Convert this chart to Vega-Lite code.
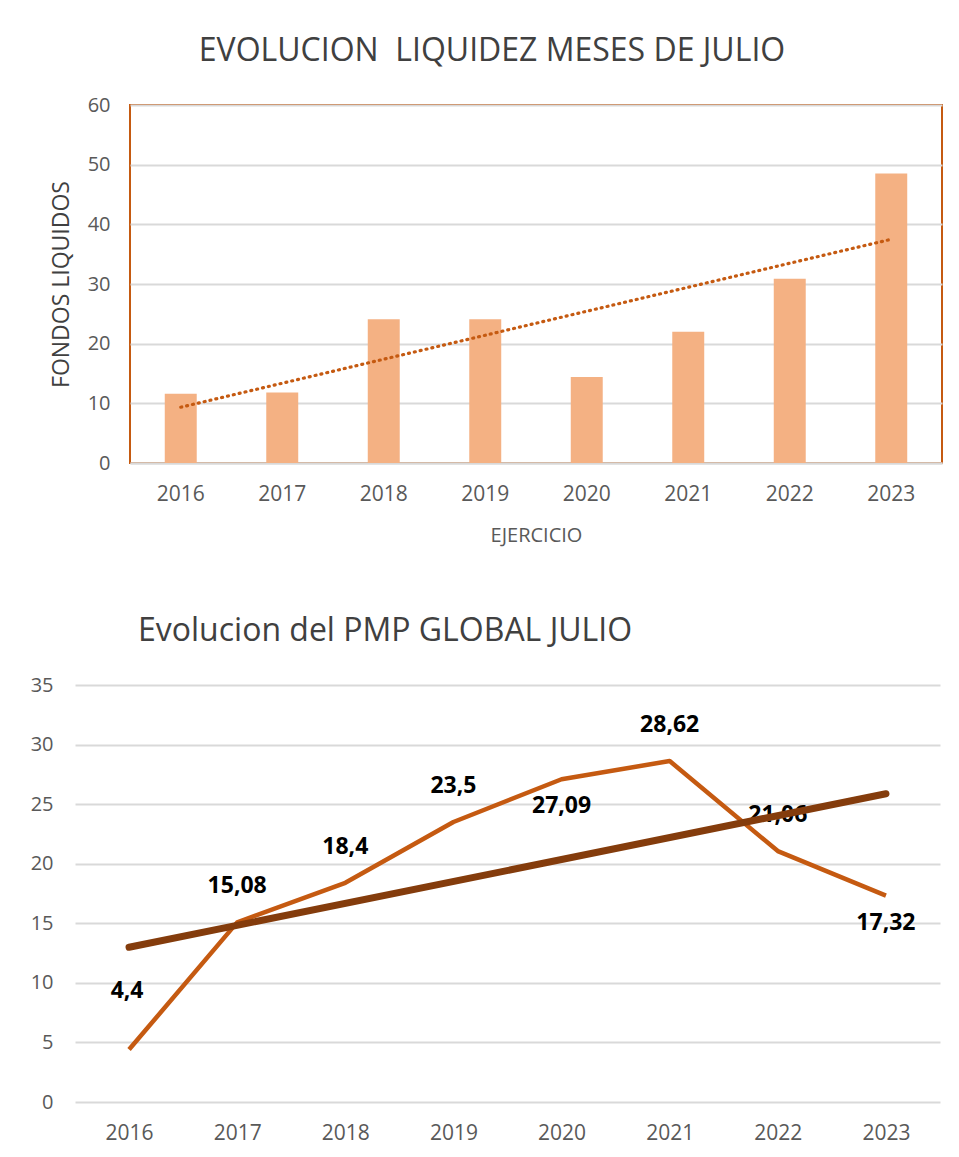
{
  "$schema": "https://vega.github.io/schema/vega-lite/v6.json",
  "padding": {"left": 30, "top": 34, "right": 10, "bottom": 5},
  "columns": 1,
  "spacing": 69,
  "config": {
    "locale": {"number": {"decimal": ",", "thousands": ".", "grouping": [3], "currency": ["", " €"]}},
    "font": "Open Sans",
    "axis": {
      "labelFont": "Open Sans",
      "labelColor": "#595959",
      "titleFont": "Open Sans",
      "titleColor": "#595959",
      "titleFontWeight": "normal",
      "gridColor": "#D9D9D9",
      "gridWidth": 2,
      "ticks": false,
      "domain": false
    },
    "title": {"font": "Open Sans", "fontWeight": "normal", "color": "#404040"}
  },
  "datasets": {
    "liquidez": [
      {"year": 2016, "fondos": 11.6},
      {"year": 2017, "fondos": 11.8},
      {"year": 2018, "fondos": 24.1},
      {"year": 2019, "fondos": 24.1},
      {"year": 2020, "fondos": 14.4},
      {"year": 2021, "fondos": 22.0},
      {"year": 2022, "fondos": 30.9},
      {"year": 2023, "fondos": 48.5}
    ],
    "pmp": [
      {"year": 2016, "pmp": 4.4},
      {"year": 2017, "pmp": 15.08},
      {"year": 2018, "pmp": 18.4},
      {"year": 2019, "pmp": 23.5},
      {"year": 2020, "pmp": 27.09},
      {"year": 2021, "pmp": 28.62},
      {"year": 2022, "pmp": 21.06},
      {"year": 2023, "pmp": 17.32}
    ],
    "blank": [{"k": 0}]
  },
  "concat": [
    {
      "hconcat": [
        {
          "width": 55,
          "height": 358,
          "data": {"name": "blank"},
          "view": {"stroke": null},
          "mark": {"type": "point", "opacity": 0},
          "encoding": {}
        },
        {
          "width": 812,
          "height": 358,
          "data": {"name": "liquidez"},
          "title": {"text": "EVOLUCION\u00a0 LIQUIDEZ MESES DE JULIO", "fontSize": 32, "offset": 27, "anchor": "middle", "frame": "group", "dx": -44},
          "view": {"stroke": "#C55A11", "strokeWidth": 2},
          "encoding": {
            "x": {
              "field": "year", "type": "ordinal",
              "scale": {"paddingInner": 0.685, "paddingOuter": 0.3425},
              "axis": {"title": "EJERCICIO", "labelAngle": 0, "labelFontSize": 21, "labelPadding": 20, "titleFontSize": 20, "titlePadding": 21, "domain": true, "domainColor": "#D9D9D9", "domainWidth": 2}
            },
            "y": {
              "field": "fondos", "type": "quantitative",
              "scale": {"domain": [0, 60]},
              "axis": {"title": "FONDOS LIQUIDOS", "titleColor": "#404040", "titleFontSize": 23, "titlePadding": 14, "values": [0, 10, 20, 30, 40, 50, 60], "labelFontSize": 20, "labelPadding": 20}
            }
          },
          "layer": [
            {"mark": {"type": "bar", "color": "#F4B183"}},
            {
              "transform": [{"regression": "fondos", "on": "year"}],
              "mark": {"type": "line", "color": "#C55A11", "strokeWidth": 3.2, "strokeCap": "round", "strokeDash": [1, 5]}
            }
          ]
        }
      ],
      "spacing": 0,
      "bounds": "flush"
    },
    {
      "width": 865,
      "height": 417,
      "data": {"name": "pmp"},
      "title": {"text": "Evolucion del PMP GLOBAL JULIO", "fontSize": 32, "offset": 27, "anchor": "start", "frame": "group", "dx": 63},
      "view": {"stroke": null},
      "encoding": {
        "x": {
          "field": "year", "type": "ordinal",
          "scale": {"type": "point", "padding": 0.5},
          "axis": {"title": null, "labelAngle": 0, "labelFontSize": 21, "labelPadding": 20}
        },
        "y": {
          "field": "pmp", "type": "quantitative",
          "scale": {"domain": [0, 35]},
          "axis": {"title": null, "values": [0, 5, 10, 15, 20, 25, 30, 35], "labelFontSize": 20, "labelPadding": 22}
        }
      },
      "layer": [
        {"mark": {"type": "line", "color": "#C55A11", "strokeWidth": 4.5, "strokeJoin": "round"}},
        {
          "transform": [{"filter": "datum.year != 2016 && datum.year != 2020 && datum.year != 2023"}],
          "mark": {"type": "text", "fontWeight": "bold", "fontSize": 23, "color": "#000000", "dy": -36},
          "encoding": {"text": {"field": "pmp", "type": "quantitative", "format": "~r"}}
        },
        {
          "transform": [{"filter": "datum.year == 2016"}],
          "mark": {"type": "text", "fontWeight": "bold", "fontSize": 23, "color": "#000000", "dy": -59, "dx": -2},
          "encoding": {"text": {"field": "pmp", "type": "quantitative", "format": "~r"}}
        },
        {
          "transform": [{"filter": "datum.year == 2020 || datum.year == 2023"}],
          "mark": {"type": "text", "fontWeight": "bold", "fontSize": 23, "color": "#000000", "dy": 27},
          "encoding": {"text": {"field": "pmp", "type": "quantitative", "format": "~r"}}
        },
        {
          "transform": [{"regression": "pmp", "on": "year"}],
          "mark": {"type": "line", "color": "#843C0C", "strokeWidth": 7, "strokeCap": "round"}
        }
      ]
    }
  ]
}
